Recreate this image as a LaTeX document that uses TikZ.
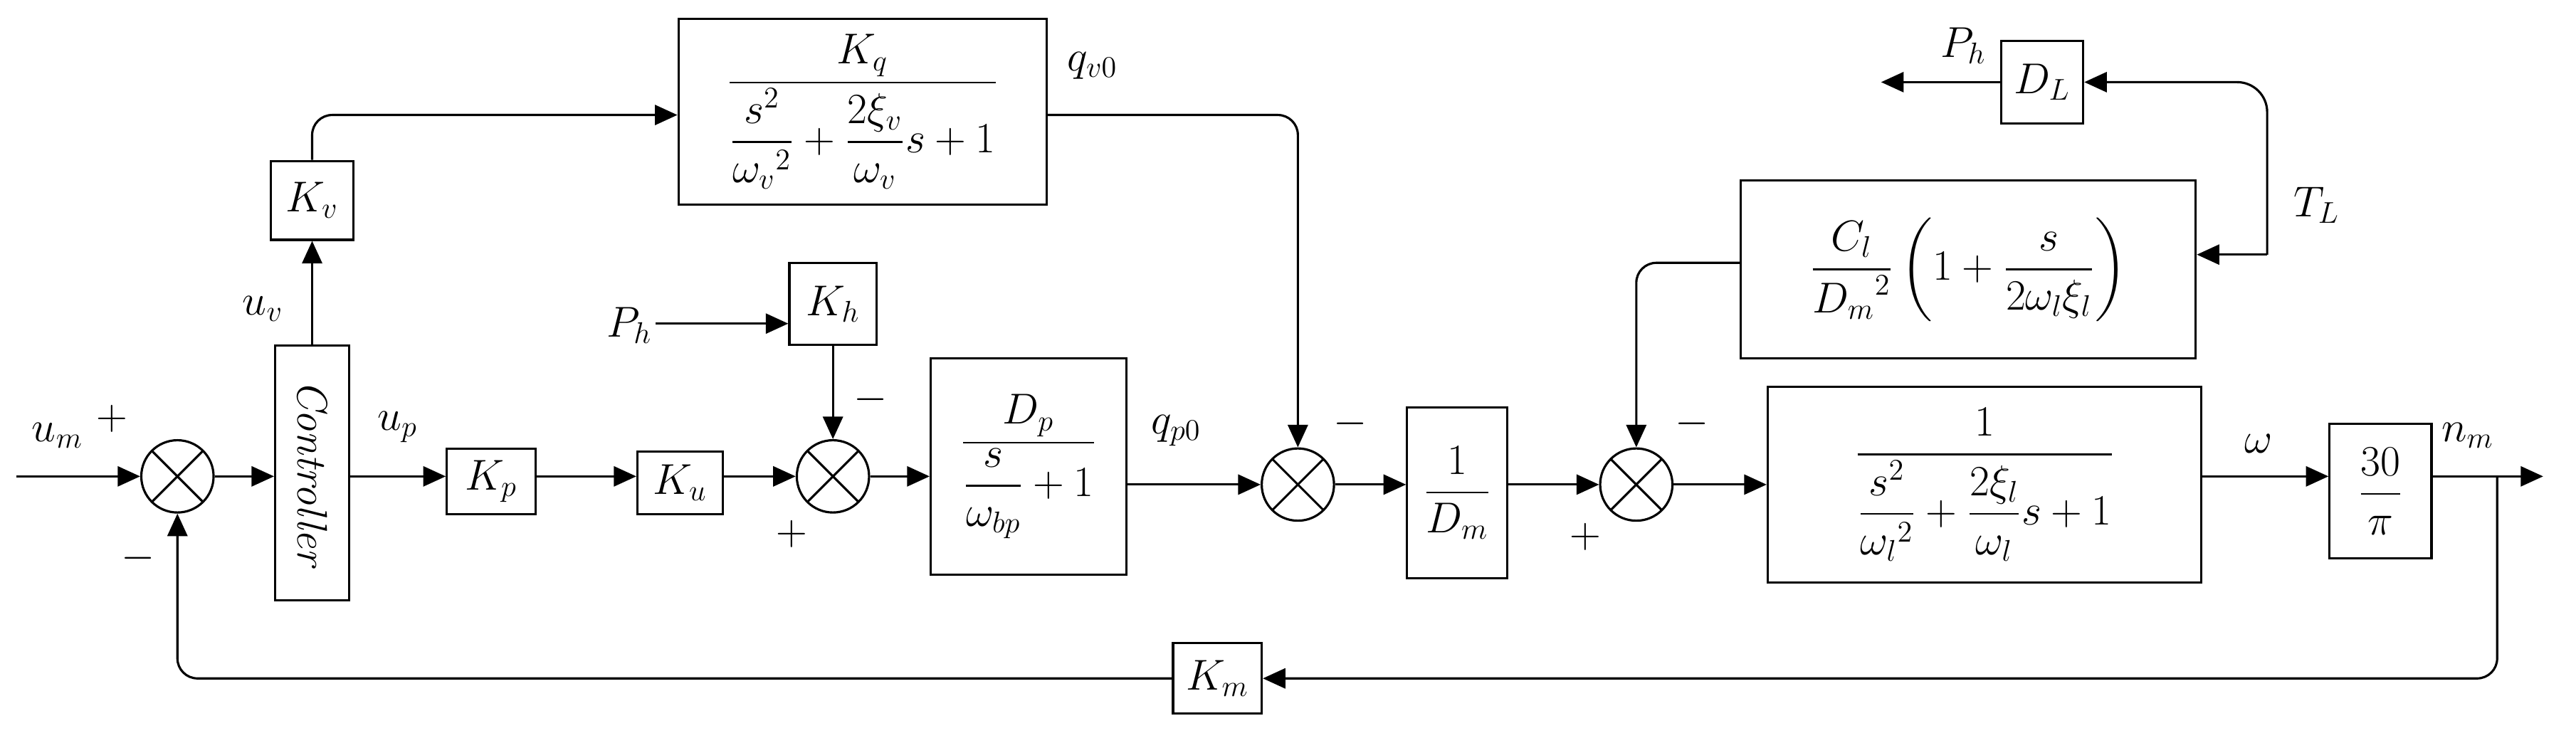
\documentclass[tikz,border=0pt]{standalone}
\usepackage{amsmath}
\usetikzlibrary{arrows.meta}
\begin{document}
\begin{tikzpicture}[x=0.02308cm,y=-0.02308cm,font=\fontsize{17}{20}\selectfont,
 line width=0.9pt, >={Triangle[length=9pt,width=8pt]},
 sum/.style={draw,circle,minimum size=44*0.02308cm,inner sep=0pt,path picture={
   \draw (path picture bounding box.north west)--(path picture bounding box.south east)
         (path picture bounding box.north east)--(path picture bounding box.south west);}},
 lab/.style={inner sep=1pt}]
\useasboundingbox (0,0) rectangle (1568,452);
\node[sum] (s1) at (108,290) {};
\node[sum] (s3) at (507,290) {};
\node[sum] (s2) at (790,295) {};
\node[sum] (s4) at (996,295) {};
\node[draw,minimum width=45*0.02308cm,minimum height=155*0.02308cm,inner sep=0pt] (ctl) at (190,288) {};
\node[rotate=-90] at (ctl) {\itshape Controller};
\node[draw,minimum width=50*0.02308cm,minimum height=48*0.02308cm,inner sep=0pt] (kv) at (190,122) {$K_v$};
\node[draw,minimum width=224*0.02308cm,minimum height=113*0.02308cm,inner sep=0pt] (kq) at (525,68) {$\dfrac{K_q}{\dfrac{s^2}{{\omega_v}^2}+\dfrac{2\xi_v}{\omega_v}s+1}$};
\node[draw,minimum width=54*0.02308cm,minimum height=40*0.02308cm,inner sep=0pt] (kp) at (299,293) {$K_p$};
\node[draw,minimum width=52*0.02308cm,minimum height=38*0.02308cm,inner sep=0pt] (ku) at (414,294) {$K_u$};
\node[draw,minimum width=53*0.02308cm,minimum height=50*0.02308cm,inner sep=0pt] (kh) at (507,185) {$K_h$};
\node[draw,minimum width=119*0.02308cm,minimum height=132*0.02308cm,inner sep=0pt] (dp) at (626,284) {$\dfrac{D_p}{\dfrac{s}{\omega_{bp}}+1}$};
\node[draw,minimum width=61*0.02308cm,minimum height=104*0.02308cm,inner sep=0pt] (dm) at (887,300) {$\dfrac{1}{D_m}$};
\node[draw,minimum width=277*0.02308cm,minimum height=108*0.02308cm,inner sep=0pt] (cl) at (1198,164) {$\dfrac{C_l}{{D_m}^2}\left(1+\dfrac{s}{2\omega_l\xi_l}\right)$};
\node[draw,minimum width=264*0.02308cm,minimum height=119*0.02308cm,inner sep=0pt] (pl) at (1208,295) {$\dfrac{1}{\dfrac{s^2}{{\omega_l}^2}+\dfrac{2\xi_l}{\omega_l}s+1}$};
\node[draw,minimum width=62*0.02308cm,minimum height=82*0.02308cm,inner sep=0pt] (tp) at (1449,299) {$\dfrac{30}{\pi}$};
\node[draw,minimum width=54*0.02308cm,minimum height=43*0.02308cm,inner sep=0pt] (km) at (741,413) {$K_m$};
\node[draw,minimum width=50*0.02308cm,minimum height=50*0.02308cm,inner sep=0pt] (dl) at (1243,50) {$D_L$};
\node[lab] at (35,265) {$u_m$};
\node[lab] at (68,255) {$+$};
\node[lab] at (84,340) {$-$};
\node[lab] at (160,188) {$u_v$};
\node[lab] at (242,260) {$u_p$};
\node[lab] (ph1) at (383,198) {$P_h$};
\node[lab] at (530,243) {$-$};
\node[lab] at (482,325) {$+$};
\node[lab] at (716,262) {$q_{p0}$};
\node[lab] at (665,40) {$q_{v0}$};
\node[lab] at (822,258) {$-$};
\node[lab] at (965,327) {$+$};
\node[lab] at (1030,258) {$-$};
\node[lab] at (1375,270) {$\omega$};
\node[lab] at (1502,265) {$n_m$};
\node[lab] at (1410,125) {$T_L$};
\node[lab] at (1195,28) {$P_h$};
\coordinate (in) at (10,290);
\coordinate (out) at (1548,290);
\coordinate (br) at (1520,290);
\coordinate (tl) at (1380,155);
\coordinate (phl) at (1145,50);
\draw[->] (in) -- (s1.west);
\draw[->] (s1.east) -- (ctl.west|-s1);
\draw[->] (ctl.north) -- (kv.south);
\draw[->,rounded corners=8pt] (kv.north) |- (kq.west|-0,70);
\draw[->,rounded corners=8pt] (kq.east|-0,70) -| (s2.north);
\draw[->] (ctl.east|-s1) -- (kp.west|-s1);
\draw[->] (kp.east|-s1) -- (ku.west|-s1);
\draw[->] (ku.east|-s1) -- (s3.west);
\draw[->] (ph1.east|-0,197) -- (kh.west|-0,197);
\draw[->] (kh.south) -- (s3.north);
\draw[->] (s3.east) -- (dp.west|-s3);
\draw[->] (dp.east|-s2) -- (s2.west);
\draw[->] (s2.east) -- (dm.west|-s2);
\draw[->] (dm.east|-s4) -- (s4.west);
\draw[->,rounded corners=8pt] (cl.west|-0,160) -| (s4.north);
\draw[->] (s4.east) -- (pl.west|-s4);
\draw[->] (pl.east|-0,290) -- (tp.west|-0,290);
\draw[->] (tp.east|-0,290) -- (out);
\draw[->,rounded corners=8pt] (br) |- (km.east);
\draw[->,rounded corners=8pt] (km.west) -| (s1.south);
\draw[->] (tl) -- (cl.east|-tl);
\draw[->,rounded corners=12pt] (tl) |- (dl.east);
\draw[->] (dl.west) -- (phl);
\end{tikzpicture}
\end{document}
